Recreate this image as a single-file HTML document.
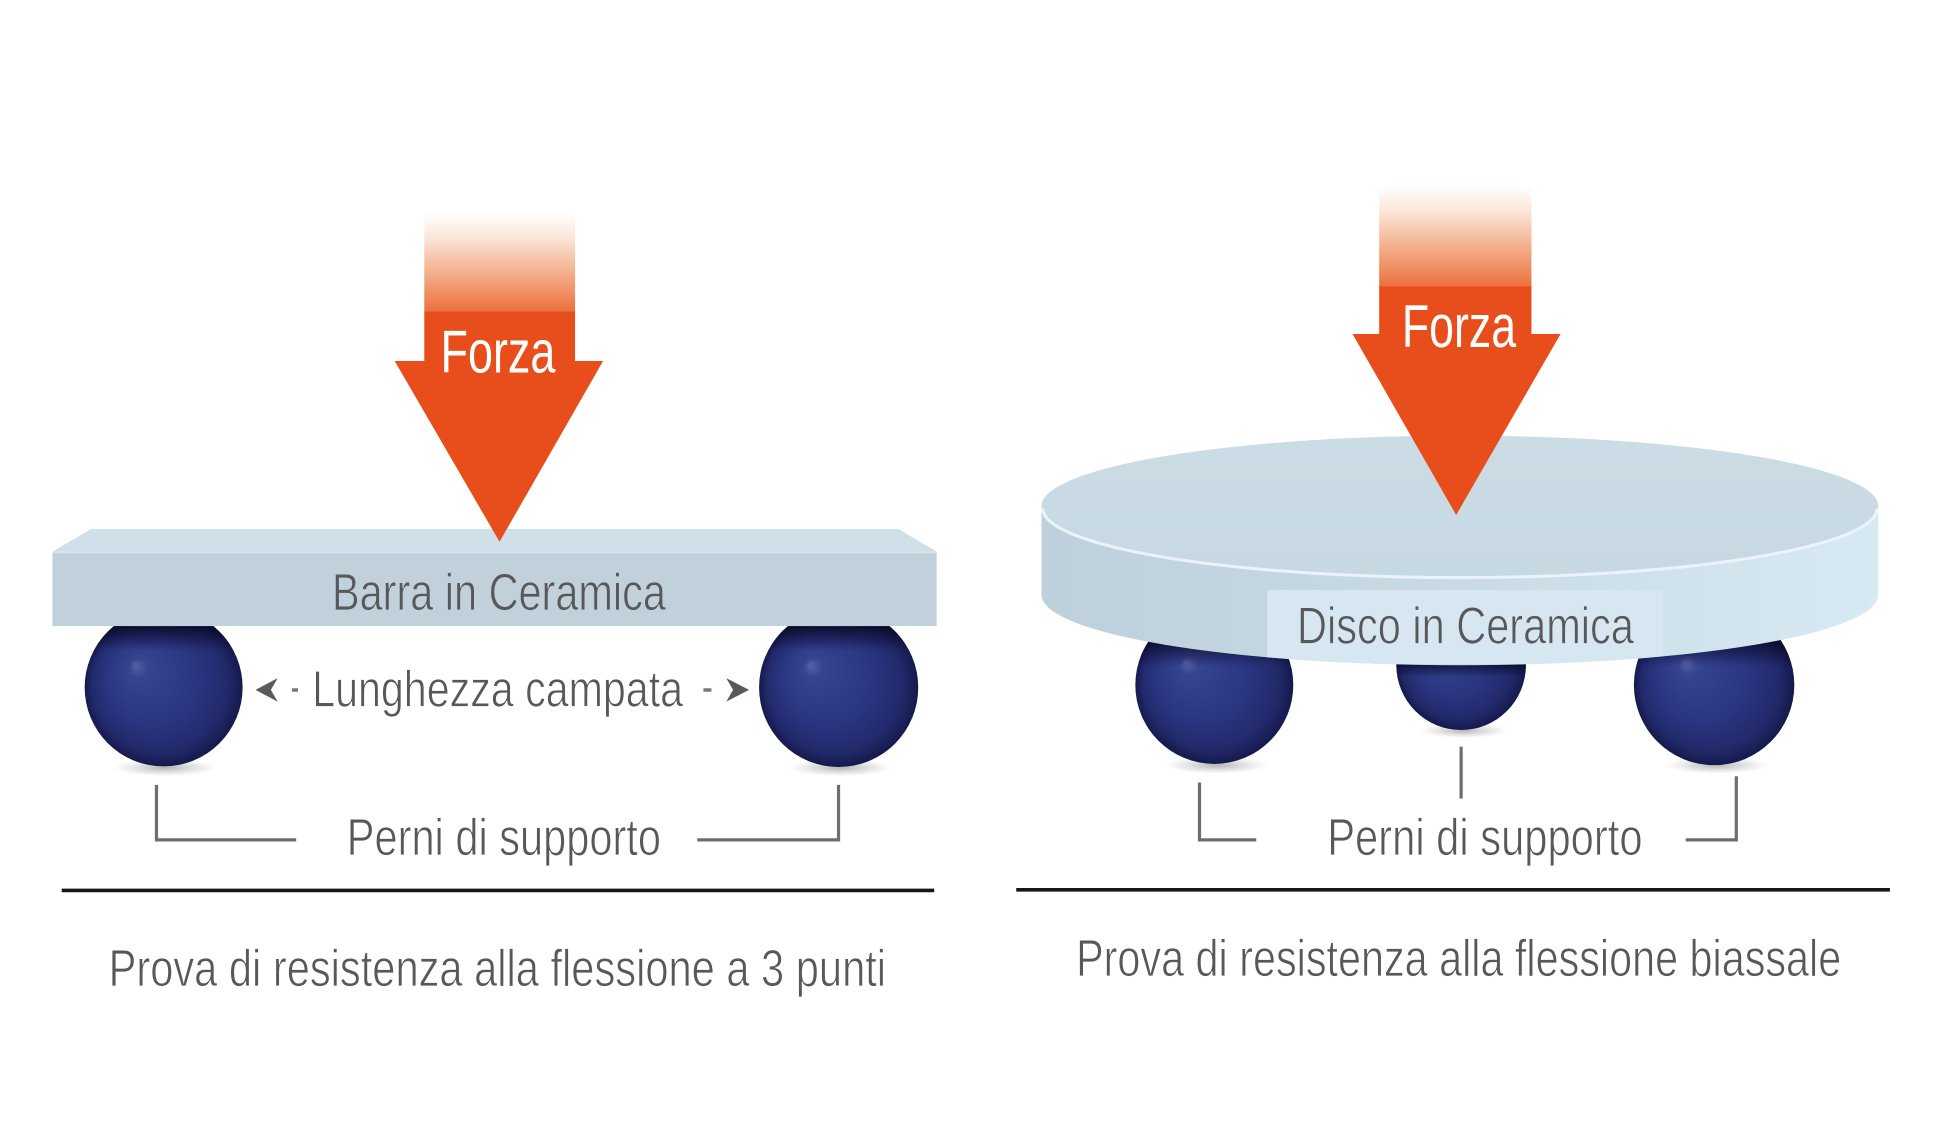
<!DOCTYPE html>
<html>
<head>
<meta charset="utf-8">
<style>
  html,body{margin:0;padding:0;background:#fff;}
  svg{display:block;}
  text{font-family:"Liberation Sans Narrow","Liberation Sans",sans-serif;}
</style>
</head>
<body>
<svg width="1935" height="1129" viewBox="0 0 1568 914.8" preserveAspectRatio="none" xmlns="http://www.w3.org/2000/svg">
  <defs>
    <radialGradient id="ball" cx="0.5" cy="0.5" r="0.5" fx="0.32" fy="0.36">
      <stop offset="0" stop-color="#5662a8"/>
      <stop offset="0.12" stop-color="#36438f"/>
      <stop offset="0.55" stop-color="#2b3683"/>
      <stop offset="0.85" stop-color="#222a6c"/>
      <stop offset="1" stop-color="#151a4c"/>
    </radialGradient>
    <linearGradient id="topdark" x1="0" y1="0" x2="0" y2="1">
      <stop offset="0" stop-color="#070925" stop-opacity="0.95"/>
      <stop offset="1" stop-color="#070925" stop-opacity="0"/>
    </linearGradient>
    <radialGradient id="shadow" cx="0.5" cy="0.5" r="0.5">
      <stop offset="0" stop-color="#777" stop-opacity="0.55"/>
      <stop offset="1" stop-color="#999" stop-opacity="0"/>
    </radialGradient>
    <linearGradient id="fadeL" x1="0" y1="172" x2="0" y2="253" gradientUnits="userSpaceOnUse">
      <stop offset="0" stop-color="#ffffff"/>
      <stop offset="0.25" stop-color="#fbe6da"/>
      <stop offset="0.6" stop-color="#f3b08c"/>
      <stop offset="1" stop-color="#ec6f3e"/>
    </linearGradient>
    <linearGradient id="fadeR" x1="0" y1="150" x2="0" y2="233" gradientUnits="userSpaceOnUse">
      <stop offset="0" stop-color="#ffffff"/>
      <stop offset="0.25" stop-color="#fbe6da"/>
      <stop offset="0.6" stop-color="#f3b08c"/>
      <stop offset="1" stop-color="#ec6f3e"/>
    </linearGradient>
    <linearGradient id="discSide" x1="844" y1="0" x2="1522" y2="0" gradientUnits="userSpaceOnUse">
      <stop offset="0" stop-color="#bdd0db"/>
      <stop offset="0.5" stop-color="#c8dbe5"/>
      <stop offset="1" stop-color="#d7e9f3"/>
    </linearGradient>
    <linearGradient id="discTop" x1="0" y1="353" x2="0" y2="467" gradientUnits="userSpaceOnUse">
      <stop offset="0" stop-color="#cbdce5"/>
      <stop offset="1" stop-color="#c6d8e2"/>
    </linearGradient>
    <clipPath id="discClip">
      <path d="M844 410 L844 482 A339 57 0 0 0 1522 482 L1522 410 A339 57 0 0 0 844 410 Z"/>
    </clipPath>
    <clipPath id="cb1"><circle cx="132.6" cy="557" r="64"/></clipPath>
    <clipPath id="cb2"><circle cx="679.6" cy="557" r="64.5"/></clipPath>
    <clipPath id="cb3"><circle cx="984" cy="555" r="64"/></clipPath>
    <clipPath id="cb4"><circle cx="1184" cy="539" r="52.5"/></clipPath>
    <clipPath id="cb5"><circle cx="1389" cy="555" r="65"/></clipPath>
  </defs>

  <!-- ================= LEFT: 3-point ================= -->
  <ellipse cx="134" cy="622" rx="42" ry="7" fill="url(#shadow)"/>
  <ellipse cx="681" cy="622" rx="42" ry="7" fill="url(#shadow)"/>
  <circle cx="132.6" cy="557" r="64" fill="url(#ball)"/>
  <rect x="60" y="505" width="150" height="22" fill="url(#topdark)" clip-path="url(#cb1)"/>
  <circle cx="679.6" cy="557" r="64.5" fill="url(#ball)"/>
  <rect x="610" y="505" width="150" height="22" fill="url(#topdark)" clip-path="url(#cb2)"/>

  <polygon points="74,428.5 728,428.5 759,447 42.5,447" fill="#cfe0e9"/>
  <rect x="42.5" y="447" width="716.5" height="60.3" fill="#c0d1db"/>
  <line x1="42.5" y1="447.5" x2="759" y2="447.5" stroke="#d6e5ec" stroke-width="1.5"/>

  <rect x="343.8" y="172" width="122.2" height="81" fill="url(#fadeL)"/>
  <rect x="343.8" y="252.5" width="122.2" height="41" fill="#e84e1b"/>
  <polygon points="319.8,292.5 488.7,292.5 404.8,439" fill="#e84e1b"/>
  <text x="357" y="302" font-size="49" fill="#ffffff" textLength="93" lengthAdjust="spacingAndGlyphs">Forza</text>

  <text x="269" y="494.3" font-size="42" fill="#58585a" stroke="#c0d1db" stroke-width="0.7" textLength="270.6" lengthAdjust="spacingAndGlyphs">Barra in Ceramica</text>

  <polygon points="207,559 225,549.5 219.5,559 225,568.5" fill="#5a5a5a"/>
  <rect x="236.5" y="557.7" width="5" height="2.8" fill="#777"/>
  <text x="253" y="572.6" font-size="41" fill="#58585a" stroke="#ffffff" stroke-width="0.7" textLength="300.5" lengthAdjust="spacingAndGlyphs">Lunghezza campata</text>
  <rect x="570" y="557.7" width="6.5" height="2.8" fill="#777"/>
  <polygon points="607,559 588.5,549.5 594,559 588.5,568.5" fill="#5a5a5a"/>

  <polyline points="126.8,636 126.8,680.5 240,680.5" fill="none" stroke="#6e6e6e" stroke-width="2.6"/>
  <polyline points="565,680.5 679.5,680.5 679.5,636" fill="none" stroke="#6e6e6e" stroke-width="2.6"/>
  <text x="281" y="692.8" font-size="42" fill="#58585a" stroke="#ffffff" stroke-width="0.7" textLength="254.6" lengthAdjust="spacingAndGlyphs">Perni di supporto</text>

  <line x1="50" y1="721.5" x2="757" y2="721.5" stroke="#161616" stroke-width="3"/>
  <text x="88" y="799" font-size="42" fill="#58585a" stroke="#ffffff" stroke-width="0.7" textLength="630" lengthAdjust="spacingAndGlyphs">Prova di resistenza alla flessione a 3 punti</text>

  <!-- ================= RIGHT: biaxial ================= -->
  <ellipse cx="986" cy="620" rx="42" ry="7" fill="url(#shadow)"/>
  <ellipse cx="1186" cy="592" rx="36" ry="6" fill="url(#shadow)"/>
  <ellipse cx="1391" cy="620" rx="42" ry="7" fill="url(#shadow)"/>
  <circle cx="984" cy="555" r="64" fill="url(#ball)"/>
  <rect x="915" y="515" width="140" height="25" fill="url(#topdark)" clip-path="url(#cb3)"/>
  <circle cx="1184" cy="539" r="52.5" fill="url(#ball)"/>
  <rect x="1125" y="535" width="120" height="14" fill="url(#topdark)" clip-path="url(#cb4)"/>
  <circle cx="1389" cy="555" r="65" fill="url(#ball)"/>
  <rect x="1320" y="515" width="140" height="25" fill="url(#topdark)" clip-path="url(#cb5)"/>

  <path d="M844 410 L844 482 A339 57 0 0 0 1522 482 L1522 410 Z" fill="url(#discSide)"/>
  <ellipse cx="1183" cy="410" rx="339" ry="57" fill="url(#discTop)"/>
  <path d="M845 412 A338 56 0 0 0 1521 412" fill="none" stroke="#e9f3f8" stroke-width="2.5"/>
  <rect x="1027" y="478" width="321" height="60" fill="#d6e7f2" clip-path="url(#discClip)"/>
  <text x="1051" y="521.3" font-size="42" fill="#58585a" stroke="#d6e7f2" stroke-width="0.7" textLength="273" lengthAdjust="spacingAndGlyphs">Disco in Ceramica</text>

  <rect x="1117.6" y="150" width="123.4" height="83" fill="url(#fadeR)"/>
  <rect x="1117.6" y="232" width="123.4" height="39" fill="#e84e1b"/>
  <polygon points="1096,270.6 1264.6,270.6 1180,417.3" fill="#e84e1b"/>
  <text x="1136" y="281.3" font-size="49" fill="#ffffff" textLength="92.5" lengthAdjust="spacingAndGlyphs">Forza</text>

  <line x1="1184" y1="605" x2="1184" y2="647" stroke="#6e6e6e" stroke-width="2.6"/>
  <polyline points="972,634 972,680.5 1018,680.5" fill="none" stroke="#6e6e6e" stroke-width="2.6"/>
  <polyline points="1366,680.5 1407,680.5 1407,629" fill="none" stroke="#6e6e6e" stroke-width="2.6"/>
  <text x="1075.5" y="692.8" font-size="42" fill="#58585a" stroke="#ffffff" stroke-width="0.7" textLength="255.5" lengthAdjust="spacingAndGlyphs">Perni di supporto</text>

  <line x1="823.5" y1="721" x2="1531.5" y2="721" stroke="#161616" stroke-width="3"/>
  <text x="872" y="790.8" font-size="42" fill="#58585a" stroke="#ffffff" stroke-width="0.7" textLength="620" lengthAdjust="spacingAndGlyphs">Prova di resistenza alla flessione biassale</text>
</svg>
</body>
</html>
